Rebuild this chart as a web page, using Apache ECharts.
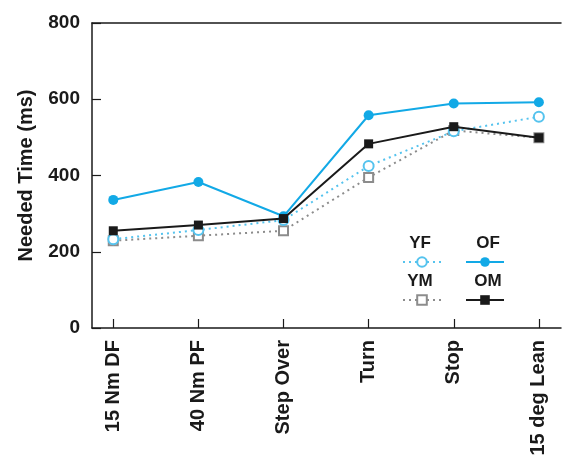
<!DOCTYPE html>
<html>
<head>
<meta charset="utf-8">
<script src="https://cdn.jsdelivr.net/npm/echarts@6/dist/echarts.min.js"></script>
<style>html,body{margin:0;padding:0;background:#fff}#c{width:562px;height:462px}</style>
</head>
<body>
<div id="c"></div>
<script>
const categories = ['15 Nm DF', '40 Nm PF', 'Step Over', 'Turn', 'Stop', '15 deg Lean'];
const YF = [233, 257, 283, 425, 516, 554];
const OF = [336, 383, 293, 558, 589, 592];
const YM = [229, 242, 255, 395, 518, 499];
const OM = [255, 270, 287, 483, 528, 499];
const yTicks = [0, 200, 400, 600, 800];

const FONT = '"Liberation Sans", Arial, sans-serif';
const pairs = arr => arr.map((v, i) => [i, v]);
const catIdx = categories.map((c, i) => i);

const chart = echarts.init(document.getElementById('c'), null, {renderer: 'canvas'});
const legendItem = (name, left, top) => ({
  data: [name], left: left, top: top, padding: 0, itemWidth: 38, itemHeight: 12,
  formatter: () => '', selectedMode: false, textStyle: {fontSize: 1}
});
chart.setOption({
  animation: false,
  backgroundColor: '#fff',
  grid: {left: 92, right: 1, top: 23, bottom: 134},
  xAxis: [{
    type: 'value', min: -0.25, max: 5.26,
    splitLine: {show: false},
    axisLine: {show: true, onZero: false, lineStyle: {color: '#1a1a1a', width: 1.5}},
    axisTick: {show: true, inside: true, length: 9, customValues: catIdx, lineStyle: {color: '#1a1a1a', width: 1.2}},
    axisLabel: {
      customValues: catIdx, rotate: 90, margin: 12,
      formatter: v => categories[Math.round(v)],
      color: '#1a1a1a', fontFamily: FONT, fontWeight: 'bold', fontSize: 20
    }
  }, {
    type: 'value', position: 'top', min: -0.25, max: 5.26,
    splitLine: {show: false}, axisTick: {show: false}, axisLabel: {show: false},
    axisLine: {show: true, onZero: false, lineStyle: {color: '#1a1a1a', width: 1.5}}
  }],
  yAxis: {
    type: 'value', min: 0, max: 800, interval: 200,
    name: 'Needed Time (ms)', nameLocation: 'middle', nameGap: 56,
    nameTextStyle: {color: '#1a1a1a', fontFamily: FONT, fontWeight: 'bold', fontSize: 20},
    splitLine: {show: false},
    axisLine: {show: true, onZero: false, lineStyle: {color: '#1a1a1a', width: 1.5}},
    axisTick: {show: true, inside: true, length: 9, lineStyle: {color: '#1a1a1a', width: 1.2}},
    axisLabel: {
      margin: 12, color: '#1a1a1a', fontFamily: FONT, fontWeight: 'bold', fontSize: 19,
      customValues: yTicks
    }
  },
  legend: [
    legendItem('YF', 402, 256),
    legendItem('OF', 465, 256),
    legendItem('YM', 402, 294),
    legendItem('OM', 465, 294)
  ],
  graphic: [
    {type: 'text', x: 420, y: 243, style: {text: 'YF', align: 'center', verticalAlign: 'middle', font: 'bold 17px ' + FONT, fill: '#1a1a1a'}},
    {type: 'text', x: 488, y: 243, style: {text: 'OF', align: 'center', verticalAlign: 'middle', font: 'bold 17px ' + FONT, fill: '#1a1a1a'}},
    {type: 'text', x: 420, y: 281, style: {text: 'YM', align: 'center', verticalAlign: 'middle', font: 'bold 17px ' + FONT, fill: '#1a1a1a'}},
    {type: 'text', x: 488, y: 281, style: {text: 'OM', align: 'center', verticalAlign: 'middle', font: 'bold 17px ' + FONT, fill: '#1a1a1a'}}
  ],
  series: [
    {name: 'YM', type: 'line', data: pairs(YM), symbol: 'emptyRect', symbolSize: 9, z: 2,
     lineStyle: {color: '#8c8c8c', width: 2, type: [2, 4]}, itemStyle: {color: '#8c8c8c', borderWidth: 1.3}},
    {name: 'YF', type: 'line', data: pairs(YF), symbol: 'emptyCircle', symbolSize: 10, z: 3,
     lineStyle: {color: '#55c3ee', width: 2, type: [2, 4]}, itemStyle: {color: '#55c3ee', borderWidth: 1.3}},
    {name: 'OF', type: 'line', data: pairs(OF), symbol: 'circle', symbolSize: 10, z: 4,
     lineStyle: {color: '#12a9e6', width: 2}, itemStyle: {color: '#12a9e6'}},
    {name: 'OM', type: 'line', data: pairs(OM), symbol: 'rect', symbolSize: 9, z: 5,
     lineStyle: {color: '#1a1a1a', width: 2}, itemStyle: {color: '#1a1a1a'}}
  ]
});
</script>
</body>
</html>
